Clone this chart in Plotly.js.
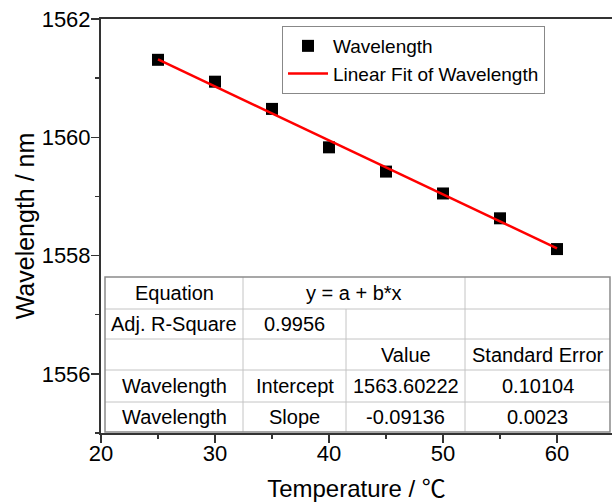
<!DOCTYPE html>
<html>
<head>
<meta charset="utf-8">
<script src="https://cdn.plot.ly/plotly-3.0.1.min.js"></script>
<style>
html,body{margin:0;padding:0;background:#fff;}
#chart{width:612px;height:504px;}
</style>
</head>
<body>
<div id="chart"></div>
<script>
// ---- data ----
var temperature = [25, 30, 35, 40, 45, 50, 55, 60];
var wavelength = [1561.31, 1560.94, 1560.48, 1559.83, 1559.42, 1559.05, 1558.63, 1558.11];
var fitX = [25, 60];
var fitY = [1561.318, 1558.121];

var xTickVals = [20, 30, 40, 50, 60];
var yTickVals = [1556, 1558, 1560, 1562];

// fit-result table rows (4 columns)
var rowEquation = ["Equation", "y = a + b*x", "", ""];
var rowAdjR = ["Adj. R-Square", "0.9956", "", ""];
var rowHeader = ["", "", "Value", "Standard Error"];
var rowIntercept = ["Wavelength", "Intercept", "1563.60222", "0.10104"];
var rowSlope = ["Wavelength", "Slope", "-0.09136", "0.0023"];

// ---- layout geometry ----
var ML = 101, MT = 19, MR = 0, MB = 71, W = 612, H = 504;
var PW = W - ML - MR, PH = H - MT - MB;
function px(x) { return (x - ML) / PW; }
function py(y) { return (H - MB - y) / PH; }

var FONT = "Liberation Sans, Arial, Noto Sans CJK SC, sans-serif";

var colX = [105, 243, 346, 465, 610];
var rowY = [277, 309, 339, 370, 402, 432];

var shapes = [];
var annotations = [];
// white background of table
shapes.push({type: "rect", xref: "paper", yref: "paper", x0: px(colX[0]), x1: px(colX[4]),
  y0: py(rowY[5]), y1: py(rowY[0]), fillcolor: "#ffffff", line: {width: 0}, layer: "above"});
// horizontal inner lines
for (var r = 1; r < 5; r++) {
  shapes.push({type: "line", xref: "paper", yref: "paper", x0: px(colX[0]), x1: px(colX[4]),
    y0: py(rowY[r]), y1: py(rowY[r]), line: {color: "#c4c4c4", width: 1}, layer: "above"});
}
// vertical inner lines
shapes.push({type: "line", xref: "paper", yref: "paper", x0: px(colX[1]), x1: px(colX[1]),
  y0: py(rowY[5]), y1: py(rowY[0]), line: {color: "#c4c4c4", width: 1}, layer: "above"});
shapes.push({type: "line", xref: "paper", yref: "paper", x0: px(colX[2]), x1: px(colX[2]),
  y0: py(rowY[5]), y1: py(rowY[1]), line: {color: "#c4c4c4", width: 1}, layer: "above"});
shapes.push({type: "line", xref: "paper", yref: "paper", x0: px(colX[3]), x1: px(colX[3]),
  y0: py(rowY[5]), y1: py(rowY[0]), line: {color: "#c4c4c4", width: 1}, layer: "above"});
// outer border
shapes.push({type: "rect", xref: "paper", yref: "paper", x0: px(colX[0]), x1: px(colX[4]),
  y0: py(rowY[5]), y1: py(rowY[0]), line: {color: "#8a8a8a", width: 1.5}, layer: "above"});

var rows = [rowEquation, rowAdjR, rowHeader, rowIntercept, rowSlope];
for (var i = 0; i < rows.length; i++) {
  var yc = (rowY[i] + rowY[i + 1]) / 2;
  for (var c = 0; c < 4; c++) {
    var t = rows[i][c];
    if (!t) continue;
    var xc = (colX[c] + colX[c + 1]) / 2;
    if (i === 0 && c === 1) xc = (colX[1] + colX[3]) / 2;
    annotations.push({xref: "paper", yref: "paper", x: px(xc), y: py(yc), text: t,
      showarrow: false, xanchor: "center", yanchor: "middle",
      font: {family: FONT, size: 20, color: "#000"}});
  }
}

var traces = [
  {x: temperature, y: wavelength, type: "scatter", mode: "markers", name: "Wavelength",
   marker: {symbol: "square", size: 12, color: "#000"}},
  {x: fitX, y: fitY, type: "scatter", mode: "lines", name: "Linear Fit of Wavelength",
   line: {color: "#ff0000", width: 2.5}}
];

var layout = {
  width: W, height: H,
  margin: {l: ML, r: MR, t: MT, b: MB, pad: 0},
  paper_bgcolor: "#fff", plot_bgcolor: "#fff",
  font: {family: FONT, color: "#000"},
  showlegend: true,
  legend: {x: px(282), y: py(26), xanchor: "left", yanchor: "top",
    bordercolor: "#888", borderwidth: 1, bgcolor: "#fff",
    font: {family: FONT, size: 19, color: "#000"}, itemwidth: 40, tracegroupgap: 0},
  xaxis: {range: [20, 20 + PW / 11.4], showline: true, mirror: true, linecolor: "#333", linewidth: 2,
    ticks: "outside", ticklen: 8, tickwidth: 1.5, tickcolor: "#333",
    tickvals: xTickVals, ticktext: xTickVals.map(String), ticklabelstandoff: -8,
    minor: {dtick: 5, tick0: 20, ticks: "outside", ticklen: 4, tickwidth: 1.5, tickcolor: "#333"},
    showgrid: false, zeroline: false, tickfont: {family: FONT, size: 22, color: "#000"},
    title: {text: "Temperature / \u2103", font: {family: FONT, size: 24, color: "#000"}, standoff: 15}},
  yaxis: {range: [1555, 1562], showline: true, mirror: false, linecolor: "#333", linewidth: 2,
    ticks: "outside", ticklen: 8, tickwidth: 1.5, tickcolor: "#333",
    tickvals: yTickVals, ticktext: yTickVals.map(String), ticklabelstandoff: -4,
    minor: {dtick: 1, tick0: 1555, ticks: "outside", ticklen: 4, tickwidth: 1.5, tickcolor: "#333"},
    showgrid: false, zeroline: false, tickfont: {family: FONT, size: 22, color: "#000"},
    title: {text: "Wavelength / nm", font: {family: FONT, size: 25, color: "#000"}, standoff: 0}},
  shapes: shapes,
  annotations: annotations
};

Plotly.newPlot("chart", traces, layout, {displayModeBar: false, staticPlot: true});
</script>
</body>
</html>
